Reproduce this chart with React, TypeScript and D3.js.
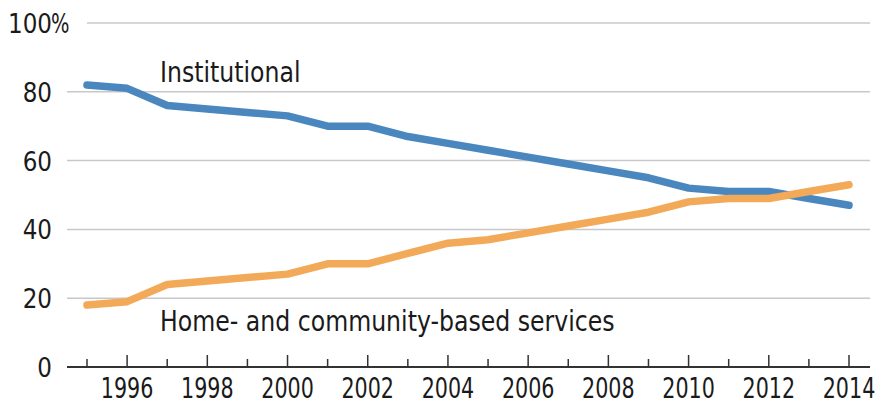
import { useEffect, useRef } from 'react'
import * as d3 from 'd3'

const years = [1995, 1996, 1997, 1998, 1999, 2000, 2001, 2002, 2003, 2004, 2005, 2006, 2007, 2008, 2009, 2010, 2011, 2012, 2013, 2014]
const institutional = [82, 81, 76, 75, 74, 73, 70, 70, 67, 65, 63, 61, 59, 57, 55, 52, 51, 51, 49, 47]
const homeCommunity = [18, 19, 24, 25, 26, 27, 30, 30, 33, 36, 37, 39, 41, 43, 45, 48, 49, 49, 51, 53]
const yTicks = [0, 20, 40, 60, 80, 100]
const xLabels = [1996, 1998, 2000, 2002, 2004, 2006, 2008, 2010, 2012, 2014]

const colors = {
  blue: '#4a87be',
  orange: '#f2aa59',
  grid: '#c8c8c8',
  axis: '#333333',
  text: '#1a1a1a',
}
const font = '"Liberation Sans Narrow", "DejaVu Sans Condensed", "Roboto", sans-serif'

type Sel = d3.Selection<any, unknown, null, undefined>

// condensed text: the original face is narrower than anything installed
function label(parent: Sel, x: number, y: number, str: string, size: number, sx: number, anchor = 'start') {
  return parent
    .append('text')
    .attr('transform', `translate(${x},${y}) scale(${sx},1)`)
    .attr('text-anchor', anchor)
    .attr('font-size', size)
    .attr('fill', colors.text)
    .text(str)
}

export default function App() {
  const ref = useRef<SVGSVGElement>(null)

  useEffect(() => {
    if (!ref.current) return
    const W = 881
    const H = 405
    const svg = d3.select(ref.current)
    svg.selectAll('*').remove()
    svg.attr('width', W).attr('height', H).attr('viewBox', `0 0 ${W} ${H}`).style('font-family', font)

    const x = d3.scaleLinear().domain([1995, 2014]).range([87, 849])
    const y = d3.scaleLinear().domain([0, 100]).range([367, 23])
    const left = 67
    const right = 870

    // Grid lines
    svg.append('g')
      .selectAll('line')
      .data(yTicks.filter((t) => t > 0))
      .join('line')
      .attr('x1', (d) => (d === 100 ? 87 : left))
      .attr('x2', right)
      .attr('y1', (d) => y(d))
      .attr('y2', (d) => y(d))
      .attr('stroke', colors.grid)
      .attr('stroke-width', 1.5)

    // Y labels
    const yg = svg.append('g')
    yTicks.forEach((t) => {
      label(yg, 52, y(t) + 10, String(t), 27, 0.95, 'end')
    })
    label(yg, 51, y(100) + 10, '%', 27, 0.8)

    // Lines
    const line = d3.line<number>()
      .x((_, i) => x(years[i]))
      .y((d) => y(d))

    const series = [
      { values: institutional, color: colors.blue },
      { values: homeCommunity, color: colors.orange },
    ]
    series.forEach((s) => {
      svg.append('path')
        .datum(s.values)
        .attr('d', line)
        .attr('fill', 'none')
        .attr('stroke', s.color)
        .attr('stroke-width', 7.5)
        .attr('stroke-linecap', 'round')
        .attr('stroke-linejoin', 'round')
    })

    // X axis
    svg.append('line')
      .attr('x1', left)
      .attr('x2', right)
      .attr('y1', y(0))
      .attr('y2', y(0))
      .attr('stroke', colors.axis)
      .attr('stroke-width', 2)

    svg.append('g')
      .selectAll('line')
      .data(years)
      .join('line')
      .attr('x1', (d) => x(d))
      .attr('x2', (d) => x(d))
      .attr('y1', y(0))
      .attr('y2', (d) => y(0) - (d % 2 === 0 ? 12 : 8))
      .attr('stroke', colors.axis)
      .attr('stroke-width', 1.5)

    const xg = svg.append('g')
    xLabels.forEach((yr) => {
      label(xg, x(yr), 398, String(yr), 28, 0.82, 'middle')
    })

    // Series labels
    label(svg, 160, 82, 'Institutional', 27.5, 0.955)
    label(svg, 160, 331, 'Home- and community-based services', 27.5, 0.955)
  }, [])

  return (
    <svg ref={ref} style={{ position: 'absolute', left: 0, top: 0, display: 'block' }} />
  )
}
